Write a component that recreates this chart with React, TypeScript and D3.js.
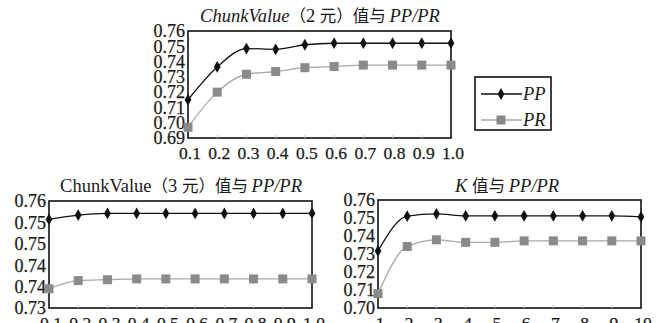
import React from 'react'
import * as d3 from 'd3'

// panel 1: ChunkValue (2 yuan)
const cv2X = [0.1, 0.2, 0.3, 0.4, 0.5, 0.6, 0.7, 0.8, 0.9, 1.0]
const cv2PP = [0.715, 0.7365, 0.7485, 0.748, 0.751, 0.752, 0.752, 0.752, 0.752, 0.752]
const cv2PR = [0.697, 0.720, 0.7317, 0.7335, 0.736, 0.7368, 0.7377, 0.7377, 0.7377, 0.7377]
const cv2YTicks = [0.69, 0.70, 0.71, 0.72, 0.73, 0.74, 0.75, 0.76]
const cv2YLabels = ['0.69', '0.70', '0.71', '0.72', '0.73', '0.74', '0.75', '0.76']
const cv2XLabels = ['0.1', '0.2', '0.3', '0.4', '0.5', '0.6', '0.7', '0.8', '0.9', '1.0']

// panel 2: ChunkValue (3 yuan)
const cv3X = [0.1, 0.2, 0.3, 0.4, 0.5, 0.6, 0.7, 0.8, 0.9, 1.0]
const cv3PP = [0.7557, 0.7567, 0.7571, 0.7571, 0.7571, 0.7571, 0.7571, 0.7571, 0.7571, 0.7571]
const cv3PR = [0.7395, 0.7414, 0.7416, 0.7418, 0.7418, 0.7418, 0.7418, 0.7418, 0.7418, 0.7418]
const cv3YTicks = [0.735, 0.74, 0.745, 0.75, 0.755, 0.76]
const cv3YLabels = ['0.73', '0.74', '0.74', '0.75', '0.75', '0.76']
const cv3XLabels = ['0.1', '0.2', '0.3', '0.4', '0.5', '0.6', '0.7', '0.8', '0.9', '1.0']

// panel 3: K
const kX = [1, 2, 3, 4, 5, 6, 7, 8, 9, 10]
const kPP = [0.7317, 0.751, 0.7523, 0.7512, 0.7512, 0.7512, 0.7512, 0.7512, 0.7512, 0.7506]
const kPR = [0.708, 0.7342, 0.7379, 0.7365, 0.7365, 0.7373, 0.7373, 0.7373, 0.7373, 0.7373]
const kYTicks = [0.70, 0.71, 0.72, 0.73, 0.74, 0.75, 0.76]
const kYLabels = ['0.70', '0.71', '0.72', '0.73', '0.74', '0.75', '0.76']
const kXLabels = ['1', '2', '3', '4', '5', '6', '7', '8', '9', '10']

const serif = "'Liberation Serif', 'Times New Roman', 'DejaVu Serif', serif"
const cjk = "'Noto Sans CJK SC', sans-serif"
const PP_COLOR = '#111'
const PR_LINE = '#a8a8a8'
const PR_MARK = '#8a8a8a'
const TEXT = '#1a1a1a'

type PanelProps = {
  box: { x0: number; x1: number; y0: number; y1: number }
  xs: number[]
  pp: number[]
  pr: number[]
  yDomain: [number, number]
  yTicks: number[]
  yLabels: string[]
  xLabels: string[]
  xLabelY: number
  title: React.ReactNode
  titleX: number
  titleY: number
}

function Panel(p: PanelProps) {
  const { box } = p
  const x = d3.scaleLinear().domain([p.xs[0], p.xs[p.xs.length - 1]]).range([box.x0, box.x1])
  const y = d3.scaleLinear().domain(p.yDomain).range([box.y1, box.y0])
  const line = d3.line<number>()
    .x((_, i) => x(p.xs[i]))
    .y(d => y(d))
    .curve(d3.curveMonotoneX)
  const diamond = d3.symbol(d3.symbolDiamond, 40)()
  return (
    <g>
      <text x={p.titleX} y={p.titleY} textAnchor="middle" fill={TEXT} style={{ fontSize: 18.5, fontFamily: serif }}>{p.title}</text>
      <rect x={box.x0} y={box.y0} width={box.x1 - box.x0} height={box.y1 - box.y0} fill="#fff" stroke="#111" strokeWidth={1.6} />
      {p.xs.slice(1, -1).map((v, i) => (
        <line key={i} x1={x(v)} x2={x(v)} y1={box.y1} y2={box.y1 - 3} stroke="#ccc" strokeWidth={1} />
      ))}
      {p.yTicks.map((v, i) => (
        <text key={i} x={box.x0 - 3} y={y(v)} dy="0.35em" textAnchor="end" fill={TEXT} stroke={TEXT} strokeWidth={0.25} style={{ fontSize: 18, fontFamily: serif }}>{p.yLabels[i]}</text>
      ))}
      {p.xs.map((v, i) => (
        <text key={i} x={x(v) + 2} y={p.xLabelY} textAnchor="middle" fill={TEXT} stroke={TEXT} strokeWidth={0.25} style={{ fontSize: 17.5, fontFamily: serif }}>{p.xLabels[i]}</text>
      ))}
      <path d={line(p.pr) || ''} fill="none" stroke={PR_LINE} strokeWidth={1.3} />
      <path d={line(p.pp) || ''} fill="none" stroke={PP_COLOR} strokeWidth={1.3} />
      {p.pr.map((v, i) => (
        <rect key={i} x={x(p.xs[i]) - 4.5} y={y(v) - 4.5} width={9} height={9} fill={PR_MARK} />
      ))}
      {p.pp.map((v, i) => (
        <path key={i} d={diamond || ''} transform={`translate(${x(p.xs[i])},${y(v)})`} fill={PP_COLOR} />
      ))}
    </g>
  )
}

function Legend() {
  const diamond = d3.symbol(d3.symbolDiamond, 40)()
  return (
    <g>
      <rect x={475} y={77} width={76} height={53} fill="#fff" stroke="#111" strokeWidth={1.6} />
      <line x1={481} x2={522} y1={94} y2={94} stroke={PP_COLOR} strokeWidth={1.3} />
      <path d={diamond || ''} transform="translate(501,94)" fill={PP_COLOR} />
      <text x={523} y={94} dy="0.35em" fill={TEXT} style={{ fontSize: 18.5, fontStyle: 'italic', fontFamily: serif }}>PP</text>
      <line x1={481} x2={522} y1={120} y2={120} stroke={PR_LINE} strokeWidth={1.3} />
      <rect x={496.5} y={115.5} width={9} height={9} fill={PR_MARK} />
      <text x={523} y={120} dy="0.35em" fill={TEXT} style={{ fontSize: 18.5, fontStyle: 'italic', fontFamily: serif }}>PR</text>
    </g>
  )
}

const cjkSpan = (s: string) => <tspan style={{ fontFamily: cjk, fontSize: 16.5 }}>{s}</tspan>

export default function App() {
  return (
    <svg width={667} height={323} style={{ position: 'absolute', left: 0, top: 0, background: '#fff' }}>
      <Panel
        box={{ x0: 188, x1: 451, y0: 31, y1: 138 }}
        xs={cv2X} pp={cv2PP} pr={cv2PR} yDomain={[0.69, 0.76]}
        yTicks={cv2YTicks} yLabels={cv2YLabels} xLabels={cv2XLabels} xLabelY={159}
        titleX={320} titleY={22}
        title={<><tspan fontStyle="italic">ChunkValue</tspan>{cjkSpan('（')}<tspan>2 </tspan>{cjkSpan('元）值与 ')}<tspan fontStyle="italic">PP/PR</tspan></>}
      />
      <Legend />
      <Panel
        box={{ x0: 49, x1: 312, y0: 201, y1: 308 }}
        xs={cv3X} pp={cv3PP} pr={cv3PR} yDomain={[0.735, 0.76]}
        yTicks={cv3YTicks} yLabels={cv3YLabels} xLabels={cv3XLabels} xLabelY={329}
        titleX={181} titleY={192}
        title={<><tspan>ChunkValue</tspan>{cjkSpan('（')}<tspan>3 </tspan>{cjkSpan('元）值与 ')}<tspan fontStyle="italic">PP/PR</tspan></>}
      />
      <Panel
        box={{ x0: 378, x1: 641, y0: 200, y1: 308 }}
        xs={kX} pp={kPP} pr={kPR} yDomain={[0.70, 0.76]}
        yTicks={kYTicks} yLabels={kYLabels} xLabels={kXLabels} xLabelY={329}
        titleX={507} titleY={192}
        title={<><tspan fontStyle="italic">K </tspan>{cjkSpan('值与 ')}<tspan fontStyle="italic">PP/PR</tspan></>}
      />
    </svg>
  )
}
